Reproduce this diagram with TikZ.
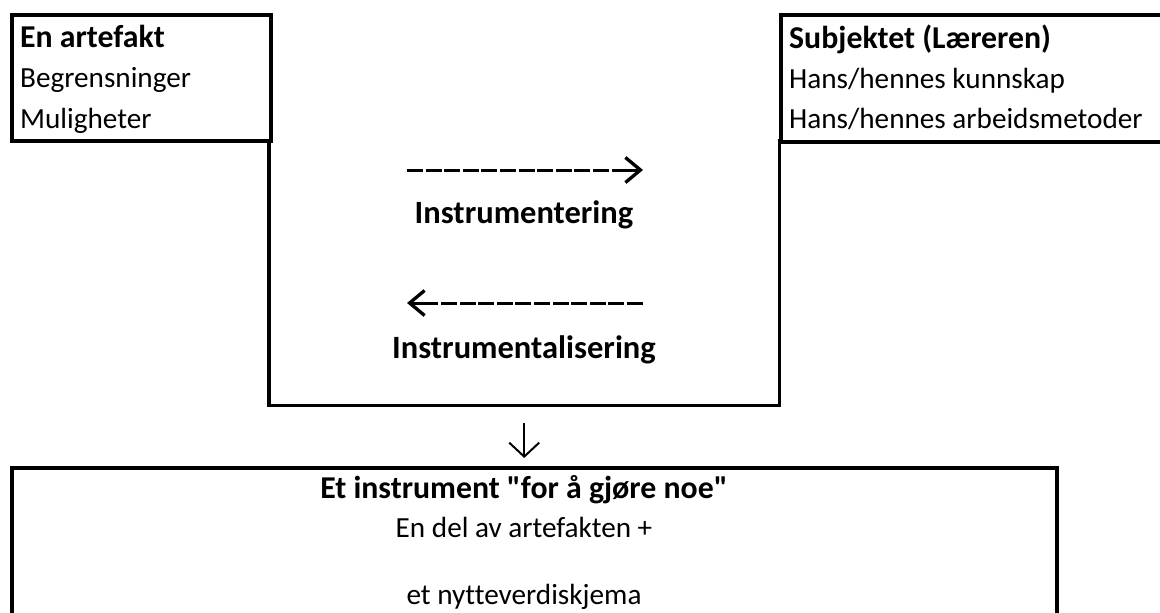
\documentclass[tikz,border=0pt]{standalone}
\usepackage{fontspec}
\newfontfamily\calfont{Carlito}[Ligatures=NoCommon]
\usetikzlibrary{arrows.meta,calc}
\begin{document}
\begin{tikzpicture}[x=1pt,y=-1pt,
  box/.style={draw, line width=3.5pt, rectangle, inner sep=0pt, anchor=north west},
  txt/.style={anchor=base west, inner sep=0pt, font=\calfont\fontsize{29.2}{34}\selectfont},
  txtb/.style={anchor=base west, inner sep=0pt, font=\calfont\fontsize{31.8}{38}\selectfont\bfseries},
  ctxt/.style={anchor=base, inner sep=0pt, font=\calfont\fontsize{29.2}{34}\selectfont},
  ctxtb/.style={anchor=base, inner sep=0pt, font=\calfont\fontsize{31.8}{38}\selectfont\bfseries},
  lbl/.style={anchor=base, inner sep=0pt, font=\calfont\fontsize{32.5}{38}\selectfont\bfseries},
  dashline/.style={line width=3pt, dash pattern=on 16pt off 2.6pt},
  tip/.style={line width=3pt, -{Straight Barb[length=15pt,width=25pt,line width=3.3pt]}},
  downarrow/.style={line width=2pt, -{Straight Barb[length=14pt,width=30pt,line width=2pt]}}
]
\useasboundingbox (0,0) rectangle (1160,613);
\begin{scope}
\clip (0,0) rectangle (1160,613);
\node[box, minimum width=259pt, minimum height=126pt] (art) at (10,13) {};
\node[box, minimum width=400pt, minimum height=127pt] (subj) at (779,13) {};
\node[inner sep=0pt, minimum width=510pt, minimum height=266pt, anchor=north west] (mid) at (269,139) {};
\draw[line width=3.5pt] (mid.north west) -- (mid.south west) -- (mid.south east) -- (mid.north east);
\node[box, minimum width=1045pt, minimum height=200pt] (instr) at (10,466) {};
\end{scope}

\node[txtb] (artH) at (20,47) {En artefakt};
\node[txt] (art1) at (20,87) {Begrensninger};
\node[txt] (art2) at (20,128) {Muligheter};

\node[txtb] (subjH) at (789,48) {Subjektet (Læreren)};
\node[txt] (subj1) at (789,88) {Hans/hennes kunnskap};
\node[txt] (subj2) at (789,128) {Hans/hennes arbeidsmetoder};

\coordinate (r1) at (407,170);
\coordinate (r2) at (614,170);
\coordinate (r3) at (643,170);
\draw[dashline] (r1) -- (r2);
\draw[tip] (r2) -- (r3);
\node[lbl] (instrA) at (524,223) {Instrumentering};

\coordinate (l1) at (643,303);
\coordinate (l2) at (437,303);
\coordinate (l3) at (407,303);
\draw[dashline] (l1) -- (l2);
\draw[tip] (l2) -- (l3);
\node[lbl] (instrB) at (524,358) {Instrumentalisering};

\draw[downarrow, shorten <=18pt, shorten >=8pt] (mid.south) -- (mid.south |- instr.north);

\node[ctxtb] (b1) at (524,498) {Et instrument "for å gjøre noe"};
\node[ctxt] (b2) at (524,537) {En del av artefakten +};
\node[ctxt] (b3) at (524,604) {et nytteverdiskjema};
\end{tikzpicture}
\end{document}
